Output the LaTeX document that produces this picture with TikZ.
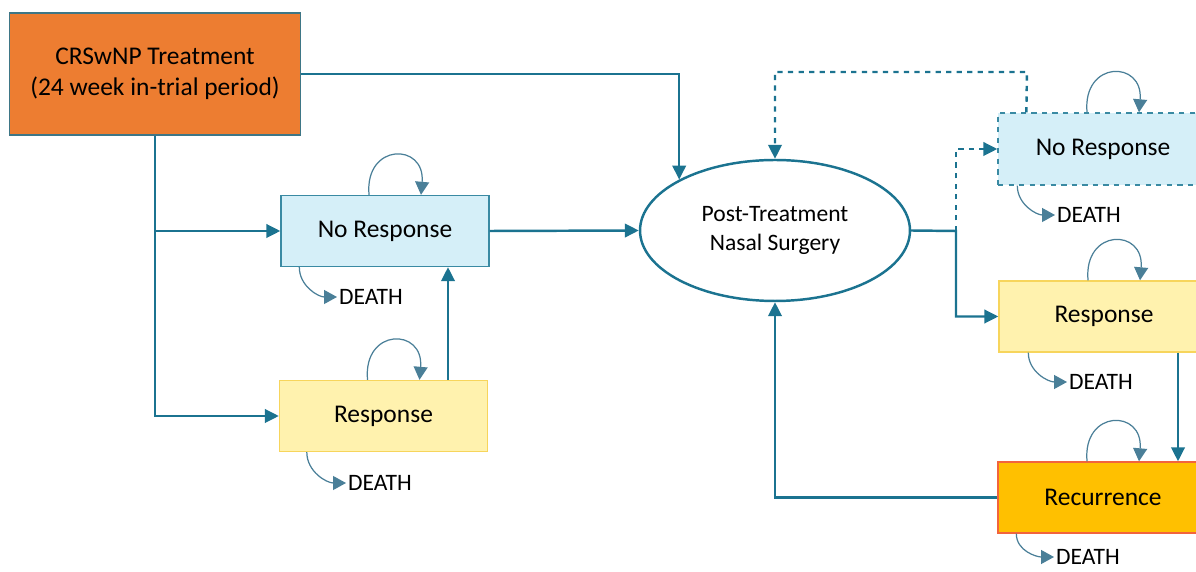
\documentclass[tikz,border=0pt]{standalone}
\usepackage{fontspec}
\setmainfont{Carlito}
\usetikzlibrary{arrows.meta,shapes.geometric,positioning}

\definecolor{linkteal}{HTML}{1B7390}
\definecolor{loopblue}{HTML}{4A7F98}
\definecolor{boxteal}{HTML}{3A8AA3}
\definecolor{noblue}{HTML}{D5EFF8}
\definecolor{respyellow}{HTML}{FFF2AE}
\definecolor{respgold}{HTML}{F7D55C}
\definecolor{recgold}{HTML}{FFC000}
\definecolor{recred}{HTML}{F2643C}
\definecolor{treatorange}{HTML}{ED7D31}
\definecolor{treatborder}{HTML}{3E7686}

\tikzset{
  box/.style={draw, line width=0.8pt, inner sep=0pt, minimum width=4.16cm,
    minimum height=1.42cm, font=\fontsize{14.5}{17}\selectfont},
  noresp/.style={box, draw=boxteal, fill=noblue},
  resp/.style={box, draw=respgold, fill=respyellow},
  link/.style={draw=linkteal, line width=1.4pt, -{Triangle[length=0.28cm,width=0.27cm]}},
  selfloop/.style={draw=loopblue, line width=0.7pt, -{Triangle[length=0.26cm,width=0.28cm]}},
  death/.style={anchor=west, inner sep=1pt, font=\fontsize{13.4}{16}\selectfont},
}

\begin{document}
\begin{tikzpicture}[x=0.02cm,y=0.02cm]

  \useasboundingbox (0,0) rectangle (1196,571);

  % Draw treatment box
  \node [draw=treatborder, line width=0.8pt, fill=treatorange, minimum width=5.82cm,
    minimum height=2.44cm, align=center, font=\fontsize{14.5}{17.5}\selectfont]
    (treat) at (155,497) {CRSwNP Treatment\\(24 week in-trial period)};

  % Draw in-trial states
  \node [noresp] (nrL) at (385,340) {No Response};
  \node [resp] (resL) at (383.5,155) {Response};

  % Draw surgery
  \node [ellipse, draw=linkteal, line width=1.4pt, minimum width=5.4cm, minimum height=2.82cm,
    inner sep=0pt, align=center, font=\fontsize{13.4}{16.5}\selectfont]
    (ell) at (775,340.5) {Post-Treatment\\Nasal Surgery};

  % Draw post-surgery states
  \node [noresp, dashed, minimum width=4.2cm, minimum height=1.44cm] (nrR) at (1103,422) {No Response};
  \node [resp, minimum width=4.2cm] (resR) at (1104,254.5) {Response};
  \node [box, draw=recred, fill=recgold, minimum width=4.2cm] (rec) at (1103,73.5) {Recurrence};

  % Draw death labels
  \node [death] (dNL) at (337,274) {DEATH};
  \node [death] (dRL) at (346,88) {DEATH};
  \node [death] (dNR) at (1055,356) {DEATH};
  \node [death] (dRR) at (1067,189) {DEATH};
  \node [death] (dRec) at (1054,14) {DEATH};

  % Draw left transitions
  \coordinate (jL) at (treat.south |- nrL.west);
  \coordinate (upL) at (448,0);
  \draw [link] (treat.east) -| (ell.152);
  \draw [link] (treat.south) |- (resL.west);
  \draw [link] (jL) -- (nrL.west);
  \draw [link] (nrL.east) -- (ell.west);
  \draw [link] (resL.north -| upL) -- (nrL.south -| upL);

  % Draw right transitions
  \coordinate (jR) at (956,340);
  \coordinate (dashTop) at (1027,499);
  \coordinate (downR) at (1178,0);
  \draw [link] (ell.east) -- (jR) |- (resR.west);
  \draw [link, dashed] (jR) |- (nrR.west);
  \draw [link, dashed] ([xshift=0.58cm]nrR.north west) -- (dashTop) -| (ell.north);
  \draw [link] (resR.south -| downR) -- (rec.north -| downR);
  \draw [link] (rec.west) -| (ell.south);

  % Draw self loops
  \foreach \s in {nrL,resL,nrR,resR,rec}
    \draw [selfloop] ([xshift=-0.32cm]\s.north) to [out=95,in=85,distance=1.05cm] ([xshift=0.72cm]\s.north);

  % Draw death transitions
  \draw [selfloop] ([xshift=0.38cm]nrL.south west) to [out=-90,in=180] (dNL.west);
  \draw [selfloop] ([xshift=0.56cm]resL.south west) to [out=-90,in=180] (dRL.west);
  \draw [selfloop] ([xshift=0.4cm]nrR.south west) to [out=-90,in=180] (dNR.west);
  \draw [selfloop] ([xshift=0.6cm]resR.south west) to [out=-90,in=180] (dRR.west);
  \draw [selfloop] ([xshift=0.38cm]rec.south west) to [out=-90,in=180] (dRec.west);

\end{tikzpicture}
\end{document}
